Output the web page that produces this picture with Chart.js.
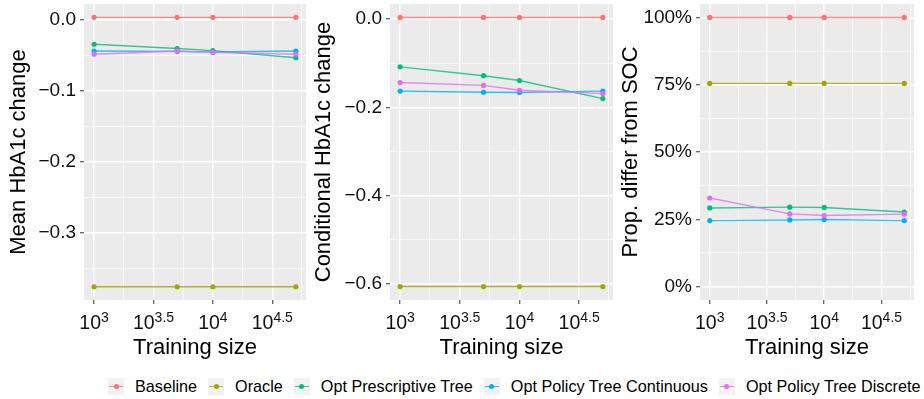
<!DOCTYPE html>
<html>
<head>
<meta charset="utf-8">
<script src="https://cdn.jsdelivr.net/npm/chart.js@4.4.0/dist/chart.umd.min.js"></script>
<style>
  body { margin: 0; background: #fff; width: 924px; height: 399px; overflow: hidden; position: relative;
         font-family: "Liberation Sans", Arial, sans-serif; }
  canvas { position: absolute; top: 0; }
  #legend { position: absolute; left: 108px; top: 377px; height: 18px; display: flex; align-items: center;
            font-size: 16.2px; color: #000; white-space: nowrap; }
  .item { display: flex; align-items: center; margin-right: 11px; }
  .key { position: relative; width: 16px; height: 17px; background: #F2F2F2; margin-right: 11px; }
  .key .ln { position: absolute; left: 1px; right: 1px; top: 8px; height: 1.4px; opacity: 0.8; }
  .key .pt { position: absolute; left: 5.5px; top: 6px; width: 5px; height: 5px; border-radius: 50%; }
</style>
</head>
<body>
<canvas id="meanChart" width="310" height="362" style="left:0px"></canvas>
<canvas id="condChart" width="308" height="362" style="left:310px"></canvas>
<canvas id="propChart" width="306" height="362" style="left:618px"></canvas>
<div id="legend"></div>
<script>
const FONT = '"Liberation Sans", Arial, sans-serif';

// training sizes (x)
const sizes = [1000, 5000, 10000, 50000];
const seriesNames = ['Baseline', 'Oracle', 'Opt Prescriptive Tree', 'Opt Policy Tree Continuous', 'Opt Policy Tree Discrete'];
const seriesColors = ['#F8766D', '#A3A500', '#00BF7D', '#00B0F6', '#E76BF3'];

// Mean HbA1c change
const meanBaseline = [0.004, 0.004, 0.004, 0.004];
const meanOracle = [-0.376, -0.376, -0.376, -0.376];
const meanPrescriptive = [-0.034, -0.040, -0.043, -0.053];
const meanContinuous = [-0.0435, -0.044, -0.045, -0.0435];
const meanDiscrete = [-0.048, -0.0435, -0.0455, -0.048];

// Conditional HbA1c change
const condBaseline = [0.004, 0.004, 0.004, 0.004];
const condOracle = [-0.606, -0.606, -0.606, -0.606];
const condPrescriptive = [-0.108, -0.128, -0.139, -0.180];
const condContinuous = [-0.163, -0.1655, -0.166, -0.163];
const condDiscrete = [-0.1435, -0.150, -0.161, -0.1686];

// Prop. differ from SOC
const propBaseline = [1.0, 1.0, 1.0, 1.0];
const propOracle = [0.755, 0.755, 0.755, 0.755];
const propPrescriptive = [0.292, 0.295, 0.294, 0.277];
const propContinuous = [0.245, 0.2475, 0.249, 0.245];
const propDiscrete = [0.329, 0.270, 0.264, 0.269];

// axis ticks
const xMajorExps = [3, 3.5, 4, 4.5];
const xGridExps = [3, 3.25, 3.5, 3.75, 4, 4.25, 4.5, 4.75];
const meanTicks = [0, -0.1, -0.2, -0.3];
const meanTickLabels = ['0.0', '\u22120.1', '\u22120.2', '\u22120.3'];
const meanMinor = [-0.05, -0.15, -0.25, -0.35];
const condTicks = [0, -0.2, -0.4, -0.6];
const condTickLabels = ['0.0', '\u22120.2', '\u22120.4', '\u22120.6'];
const condMinor = [-0.1, -0.3, -0.5];
const propTicks = [0, 0.25, 0.5, 0.75, 1];
const propTickLabels = ['0%', '25%', '50%', '75%', '100%'];
const propMinor = [0.125, 0.375, 0.625, 0.875];

const panelBg = {
  id: 'panelBg',
  beforeDraw(chart) {
    const { ctx, chartArea: a } = chart;
    ctx.save();
    ctx.fillStyle = '#EBEBEB';
    ctx.fillRect(a.left, a.top, a.right - a.left, a.bottom - a.top);
    ctx.restore();
  }
};

// 10^k labels with raised exponent
const xExpLabels = {
  id: 'xExpLabels',
  afterDraw(chart) {
    const { ctx } = chart;
    const s = chart.scales.x;
    ctx.save();
    ctx.fillStyle = '#111';
    ctx.textAlign = 'left';
    ctx.textBaseline = 'alphabetic';
    xMajorExps.forEach(e => {
      const px = s.getPixelForValue(Math.pow(10, e));
      const sup = String(e);
      ctx.font = '19.5px ' + FONT;
      const wb = ctx.measureText('10').width;
      ctx.font = '14px ' + FONT;
      const ws = ctx.measureText(sup).width;
      const x0 = px - (wb + ws) / 2;
      ctx.font = '19.5px ' + FONT;
      ctx.fillText('10', x0, s.top + 28.5);
      ctx.font = '14px ' + FONT;
      ctx.fillText(sup, x0 + wb, s.top + 22);
    });
    ctx.restore();
  }
};

function fade(hex, a) {
  const n = parseInt(hex.slice(1), 16);
  return `rgba(${n >> 16},${(n >> 8) & 255},${n & 255},${a})`;
}

function makePanel(id, p) {
  const isMajorY = v => p.major.some(m => Math.abs(m - v) < 1e-9);
  const isMajorX = v => xMajorExps.some(e => Math.abs(Math.log10(v) - e) < 1e-6);
  new Chart(document.getElementById(id), {
    type: 'line',
    data: {
      datasets: seriesNames.map((name, i) => ({
        label: name,
        data: sizes.map((s, j) => ({ x: s, y: p.series[i][j] })),
        borderColor: fade(seriesColors[i], 0.8),
        backgroundColor: seriesColors[i],
        pointBackgroundColor: seriesColors[i],
        pointBorderWidth: 0,
        pointRadius: 2.6,
        borderWidth: 1.4,
        order: seriesNames.length - 1 - i
      }))
    },
    options: {
      responsive: false,
      animation: false,
      layout: { padding: { top: 4, right: p.padRight, left: 0, bottom: 0 } },
      plugins: { legend: { display: false }, tooltip: { enabled: false } },
      scales: {
        x: {
          type: 'logarithmic',
          min: Math.pow(10, 2.915),
          max: Math.pow(10, 4.784),
          afterBuildTicks: s => { s.ticks = xGridExps.map(e => ({ value: Math.pow(10, e) })); },
          afterFit: s => { s.height = 62; s.paddingLeft = 0; s.paddingRight = 0; },
          ticks: { display: false },
          grid: {
            color: '#FFFFFF',
            lineWidth: c => (c.tick && isMajorX(c.tick.value)) ? 1.5 : 0.7,
            tickLength: 4,
            tickWidth: 1,
            tickColor: c => (c.tick && isMajorX(c.tick.value)) ? '#333333' : 'rgba(0,0,0,0)'
          },
          border: { display: false },
          title: { display: true, text: 'Training size', color: '#000', font: { size: 22, family: FONT },
                   padding: { top: 0, bottom: 1 } }
        },
        y: {
          min: p.min,
          max: p.max,
          afterBuildTicks: s => {
            s.ticks = p.major.concat(p.minor).sort((a, b) => a - b).map(v => ({ value: v }));
          },
          afterFit: s => { s.width = p.axisWidth; s.paddingTop = 0; s.paddingBottom = 0; },
          ticks: {
            autoSkip: false,
            padding: 4,
            color: '#111',
            font: { size: 19, family: FONT },
            callback: v => {
              const k = p.major.findIndex(m => Math.abs(m - v) < 1e-9);
              return k < 0 ? '' : p.labels[k];
            }
          },
          grid: {
            color: '#FFFFFF',
            lineWidth: c => (c.tick && isMajorY(c.tick.value)) ? 1.5 : 0.7,
            tickLength: 4,
            tickWidth: 1,
            tickColor: c => (c.tick && isMajorY(c.tick.value)) ? '#333333' : 'rgba(0,0,0,0)'
          },
          border: { display: false },
          title: { display: true, text: p.yTitle, color: '#000', font: { size: 22, family: FONT },
                   padding: { top: p.titlePad, bottom: 0 } }
        }
      }
    },
    plugins: [panelBg, xExpLabels]
  });
}

makePanel('meanChart', {
  yTitle: 'Mean HbA1c change',
  series: [meanBaseline, meanOracle, meanPrescriptive, meanContinuous, meanDiscrete],
  min: -0.3947, max: 0.0228,
  major: meanTicks, labels: meanTickLabels, minor: meanMinor,
  axisWidth: 84, padRight: 3, titlePad: 6
});

makePanel('condChart', {
  yTitle: 'Conditional HbA1c change',
  series: [condBaseline, condOracle, condPrescriptive, condContinuous, condDiscrete],
  min: -0.6365, max: 0.0345,
  major: condTicks, labels: condTickLabels, minor: condMinor,
  axisWidth: 80, padRight: 5, titlePad: 1
});

makePanel('propChart', {
  yTitle: 'Prop. differ from SOC',
  series: [propBaseline, propOracle, propPrescriptive, propContinuous, propDiscrete],
  min: -0.05, max: 1.05,
  major: propTicks, labels: propTickLabels, minor: propMinor,
  axisWidth: 82, padRight: 10, titlePad: 0
});

// legend
const legend = document.getElementById('legend');
seriesNames.forEach((name, i) => {
  const item = document.createElement('div');
  item.className = 'item';
  item.innerHTML = `<div class="key"><div class="ln" style="background:${seriesColors[i]}"></div>` +
    `<div class="pt" style="background:${seriesColors[i]}"></div></div><span>${name}</span>`;
  legend.appendChild(item);
});
</script>
</body>
</html>
